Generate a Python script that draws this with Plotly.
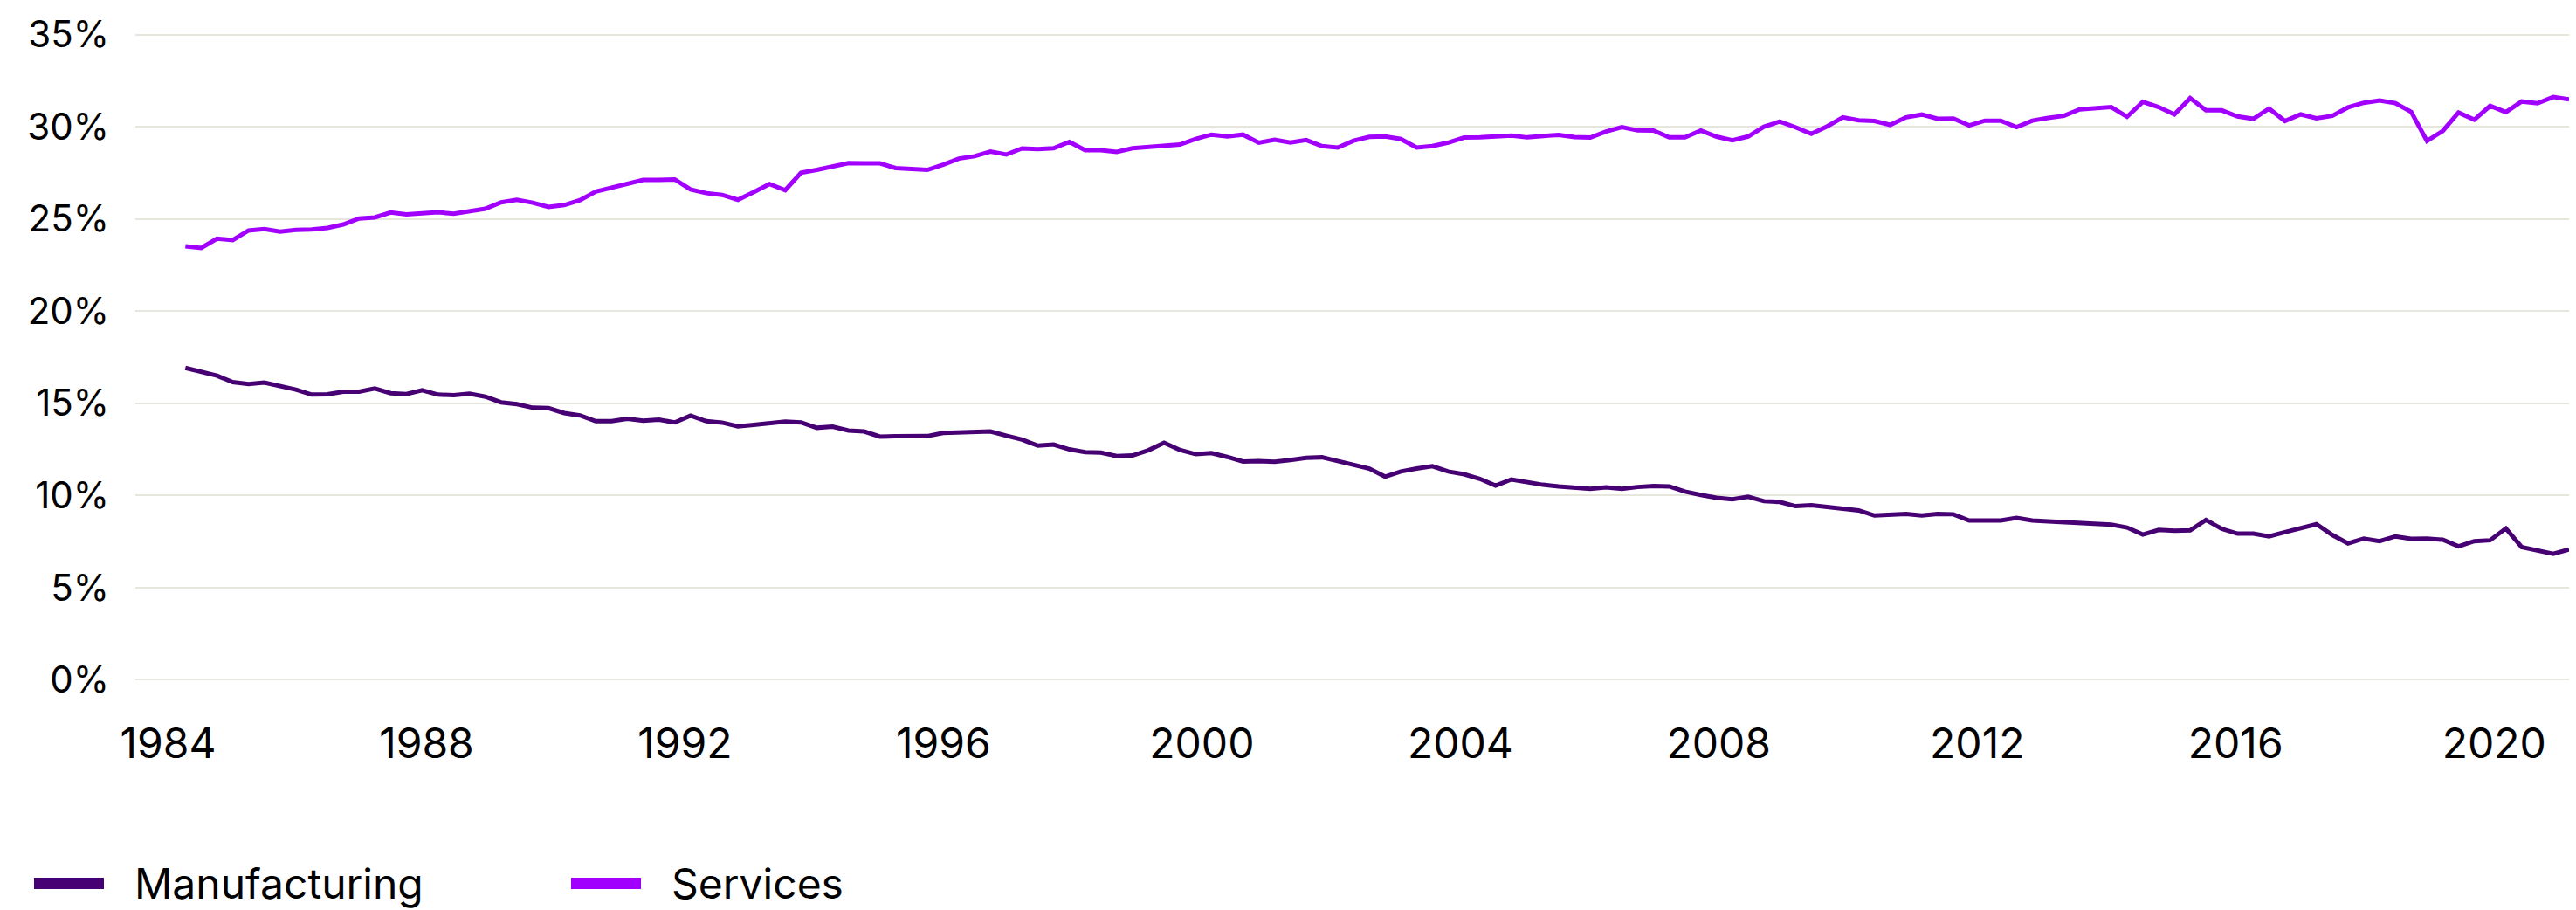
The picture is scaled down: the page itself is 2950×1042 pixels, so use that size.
import plotly.graph_objects as go

# Quarterly periods, 1984 Q1 .. 2021 Q4 (152 observations)
years = list(range(1984, 2022))
quarters = [1, 2, 3, 4]
period_labels = [f"{y} Q{q}" for y in years for q in quarters]

# Share of total (%)
manufacturing = [
    16.92, 16.70, 16.50, 16.15, 16.04, 16.12, 15.95, 15.74, 15.47, 15.49,
    15.63, 15.63, 15.80, 15.55, 15.50, 15.71, 15.47, 15.44, 15.52, 15.36,
    15.05, 14.95, 14.76, 14.74, 14.47, 14.34, 14.03, 14.03, 14.16, 14.05,
    14.11, 13.96, 14.33, 14.03, 13.95, 13.75, 13.83, 13.91, 14.01, 13.96,
    13.67, 13.73, 13.52, 13.47, 13.19, 13.21, 13.21, 13.22, 13.39, 13.40,
    13.42, 13.47, 13.24, 13.03, 12.70, 12.76, 12.50, 12.35, 12.32, 12.14,
    12.17, 12.45, 12.86, 12.47, 12.24, 12.30, 12.09, 11.84, 11.86, 11.83,
    11.92, 12.04, 12.07, 11.86, 11.61, 11.46, 11.02, 11.30, 11.46, 11.59,
    11.30, 11.15, 10.90, 10.53, 10.87, 10.72, 10.58, 10.49, 10.43, 10.36,
    10.44, 10.36, 10.46, 10.51, 10.49, 10.21, 10.03, 9.87, 9.79, 9.93,
    9.69, 9.65, 9.42, 9.47, 9.38, 9.29, 9.19, 8.91, 8.93, 9.00,
    8.91, 9.00, 8.98, 8.64, 8.64, 8.64, 8.78, 8.64, 8.59, 8.55,
    8.52, 8.49, 8.42, 8.26, 7.88, 8.13, 8.09, 8.11, 8.67, 8.19,
    7.93, 7.93, 7.78, 8.01, 8.22, 8.44, 7.86, 7.40, 7.66, 7.52,
    7.78, 7.65, 7.66, 7.60, 7.24, 7.52, 7.57, 8.21, 7.20, 7.02,
    6.83, 7.07,
]

services = [
    23.52, 23.42, 23.93, 23.85, 24.37, 24.45, 24.31, 24.40, 24.43, 24.51,
    24.70, 25.02, 25.08, 25.35, 25.25, 25.33, 25.36, 25.28, 25.39, 25.55,
    25.90, 26.04, 25.88, 25.65, 25.75, 26.02, 26.48, 26.68, 26.89, 27.11,
    27.11, 27.14, 26.60, 26.40, 26.30, 26.04, 26.45, 26.89, 26.56, 27.50,
    27.66, 27.85, 28.03, 28.01, 28.01, 27.76, 27.71, 27.66, 27.94, 28.27,
    28.40, 28.65, 28.49, 28.82, 28.78, 28.83, 29.18, 28.73, 28.73, 28.63,
    28.83, 28.91, 28.95, 29.03, 29.34, 29.57, 29.47, 29.57, 29.13, 29.29,
    29.14, 29.28, 28.95, 28.87, 29.24, 29.45, 29.47, 29.33, 28.87, 28.95,
    29.14, 29.41, 29.42, 29.47, 29.52, 29.42, 29.49, 29.56, 29.44, 29.41,
    29.74, 29.98, 29.80, 29.79, 29.42, 29.42, 29.79, 29.46, 29.26, 29.47,
    30.00, 30.28, 29.97, 29.61, 30.02, 30.51, 30.35, 30.31, 30.10, 30.51,
    30.66, 30.43, 30.44, 30.07, 30.33, 30.33, 29.98, 30.33, 30.48, 30.59,
    30.94, 31.00, 31.07, 30.54, 31.35, 31.07, 30.67, 31.55, 30.89, 30.89,
    30.56, 30.43, 30.99, 30.31, 30.67, 30.46, 30.59, 31.05, 31.30, 31.43,
    31.28, 30.81, 29.23, 29.77, 30.77, 30.38, 31.13, 30.79, 31.37, 31.27,
    31.61, 31.48,
]

y_ticks = [0, 5, 10, 15, 20, 25, 30, 35]
x_tick_years = [1984, 1988, 1992, 1996, 2000, 2004, 2008, 2012, 2016, 2020]
series_names = ["Manufacturing", "Services"]
colors = {"Manufacturing": "#460073", "Services": "#A100FF"}

# x: observation index; year labels placed where the reference prints them
x_idx = list(range(len(period_labels)))
POINTS_PER_YEAR = 4.093
FIRST_TICK = -1.095
x_tick_pos = [(y - 1984) * POINTS_PER_YEAR + FIRST_TICK for y in x_tick_years]

FONT = "Inter, Roboto, Arial, sans-serif"

W, H = 2950, 1042
ML, MR, MT, MB = 155, 8, 29, 253
PW = W - ML - MR
PH = H - MT - MB

fig = go.Figure()
for name, vals in zip(series_names, [manufacturing, services]):
    fig.add_trace(go.Scatter(
        x=x_idx, y=vals, mode="lines", name=name,
        customdata=period_labels,
        line=dict(color=colors[name], width=5, shape="linear"),
        showlegend=False,
        hovertemplate="%{customdata}: %{y:.1f}%<extra>" + name + "</extra>",
    ))

# Manual legend (swatch + label) below the chart
def px_x(px):
    return (px - ML) / PW

def px_y(py):
    return (H - MB - py) / PH

legend_items = [("Manufacturing", 39, 119, 152), ("Services", 654, 734, 767)]
for name, sx0, sx1, tx in legend_items:
    fig.add_shape(type="rect", xref="paper", yref="paper",
                  x0=px_x(sx0), x1=px_x(sx1), y0=px_y(1018), y1=px_y(1005),
                  fillcolor=colors[name], line=dict(width=0))
    fig.add_annotation(xref="paper", yref="paper", x=px_x(tx), y=px_y(1011),
                       xanchor="left", yanchor="middle", showarrow=False,
                       text=name, font=dict(family=FONT, size=48, color="#000000"))

fig.update_layout(
    width=W, height=H,
    margin=dict(l=ML, r=MR, t=MT, b=MB, pad=0),
    paper_bgcolor="#FFFFFF", plot_bgcolor="#FFFFFF",
    font=dict(family=FONT, color="#000000"),
    showlegend=False,
)
fig.update_xaxes(
    range=[-3.17, 151.0],
    tickmode="array", tickvals=x_tick_pos, ticktext=[str(t) for t in x_tick_years],
    showgrid=False, zeroline=False, showline=False, ticks="",
    tickfont=dict(family=FONT, size=48, color="#000000"),
    ticklabelstandoff=30,
)
fig.update_yaxes(
    range=[-0.5, 35.5],
    tickmode="array", tickvals=y_ticks, ticktext=[f"{t}%" for t in y_ticks],
    showgrid=True, gridcolor="#E6E6DC", gridwidth=2,
    zeroline=False, showline=False, ticks="",
    tickfont=dict(family=FONT, size=42, color="#000000"),
    ticklabelstandoff=29,
)

fig.write_html(
    "out.html",
    config={"displayModeBar": False},
    post_script="document.body.style.margin='0';document.body.style.padding='0';",
)
